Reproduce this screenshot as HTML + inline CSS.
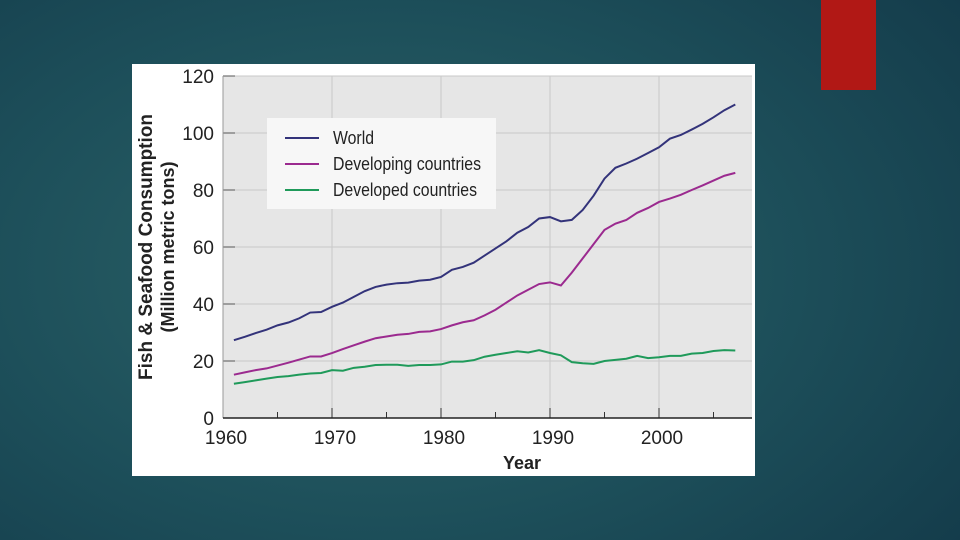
<!DOCTYPE html>
<html><head><meta charset="utf-8"><style>
body{margin:0;width:960px;height:540px;overflow:hidden;background:radial-gradient(ellipse 75% 85% at 40% 50%,#2d6468 0%,#1d4f5a 55%,#143c4b 100%);font-family:"Liberation Sans",sans-serif;}
svg{position:absolute;left:0;top:0}
</style></head><body>
<svg width="960" height="540">
<rect x="821" y="0" width="55" height="90" fill="#b11815"/>
<rect x="132" y="64" width="623" height="412" fill="#fff"/>
<g id="plot"></g>
</svg>
<script>
const years=[];for(let y=1961;y<=2007;y++)years.push(y);
const world=[27.3,28.5,29.8,31,32.5,33.5,35,37,37.2,39,40.5,42.5,44.5,46,46.8,47.3,47.5,48.2,48.5,49.5,52,53,54.5,57,59.5,62,65,67,70,70.5,69,69.5,73,78,84,87.8,89.3,91,93,95,98,99.3,101.2,103.2,105.5,108,110];
const developing=[15.2,16,16.8,17.4,18.4,19.4,20.5,21.6,21.6,22.8,24.2,25.5,26.8,28,28.6,29.2,29.5,30.2,30.4,31.2,32.5,33.6,34.3,36,38,40.5,43,45,47,47.6,46.5,51,56,61,66,68.2,69.5,72,73.7,75.8,77,78.3,80,81.6,83.3,85,86];
const developed=[12,12.6,13.2,13.8,14.4,14.7,15.2,15.6,15.8,16.8,16.6,17.6,18,18.6,18.7,18.7,18.3,18.6,18.6,18.8,19.8,19.8,20.3,21.5,22.2,22.8,23.4,23,23.8,22.8,22,19.6,19.2,19,20,20.4,20.8,21.8,21,21.3,21.8,21.8,22.6,22.8,23.5,23.8,23.7];
const yTicks=[0,20,40,60,80,100,120];
const xTicks=[1960,1970,1980,1990,2000];
const X=y=>223+(y-1960)*10.9;
const Y=v=>418-v*2.85;
const NS="http://www.w3.org/2000/svg";
const g=document.getElementById('plot');
function el(t,a,p){const e=document.createElementNS(NS,t);for(const k in a)e.setAttribute(k,a[k]);(p||g).appendChild(e);return e;}
const bg=el('rect',{x:223,y:76,width:529,height:342,fill:'#e6e6e6'});


for(let yr=1970;yr<=2000;yr+=10){const l=el('line',{x1:X(yr),x2:X(yr),y1:76,y2:418,stroke:'#c8c8c8','stroke-width':1});

}
yTicks.forEach(v=>{if(v>0){const l=el('line',{x1:223,x2:752,y1:Y(v),y2:Y(v),stroke:'#c8c8c8','stroke-width':1});

}
const tk=el('line',{x1:223,x2:235,y1:Y(v),y2:Y(v),stroke:'#555','stroke-width':1});


const t=el('text',{x:214,y:Y(v)+7,'text-anchor':'end','font-size':19,fill:'#222'});t.textContent=v;

});
for(let yr=1965;yr<=2005;yr+=5){const tk=el('line',{x1:X(yr),x2:X(yr),y1:418,y2:yr%10?412:408,stroke:'#333','stroke-width':1});

}
xTicks.forEach(yr=>{const t=el('text',{x:X(yr)+3,y:444,'text-anchor':'middle','font-size':19,fill:'#222'});t.textContent=yr;

});
const ax=el('line',{x1:223,x2:223,y1:76,y2:418,stroke:'#999','stroke-width':1});


const bx=el('line',{x1:223,x2:752,y1:418,y2:418,stroke:'#222','stroke-width':1.5});


const series=[[world,'#33337a','world-line'],[developing,'#9b2a8f','developing-line'],[developed,'#1f9a5a','developed-line']];
series.forEach(([d,c,n])=>{const p=el('polyline',{points:d.map((v,i)=>X(years[i])+','+Y(v)).join(' '),fill:'none',stroke:c,'stroke-width':2});

});
const lg=el('rect',{x:267,y:118,width:229,height:91,fill:'#f7f7f7'});


[['World','#33337a',138,41],['Developing countries','#9b2a8f',164,148],['Developed countries','#1f9a5a',190,144]].forEach(([s,c,y,w])=>{
const l=el('line',{x1:285,x2:319,y1:y,y2:y,stroke:c,'stroke-width':2});


const t=el('text',{x:333,y:y+6,'font-size':18,fill:'#222','font-family':'"Liberation Sans Narrow","Liberation Sans",sans-serif',textLength:w,lengthAdjust:'spacingAndGlyphs'});t.textContent=s;

});
const t1=el('text',{x:0,y:0,'font-size':19,'font-weight':'bold',fill:'#222','text-anchor':'middle',transform:'translate(152,247) rotate(-90)'});t1.textContent='Fish & Seafood Consumption';


const t2=el('text',{x:0,y:0,'font-size':18,'font-weight':'bold',fill:'#222','text-anchor':'middle',transform:'translate(174,247) rotate(-90)'});t2.textContent='(Million metric tons)';


const t3=el('text',{x:522,y:469,'font-size':18,'font-weight':'bold',fill:'#222','text-anchor':'middle'});t3.textContent='Year';


</script>
</body></html>
